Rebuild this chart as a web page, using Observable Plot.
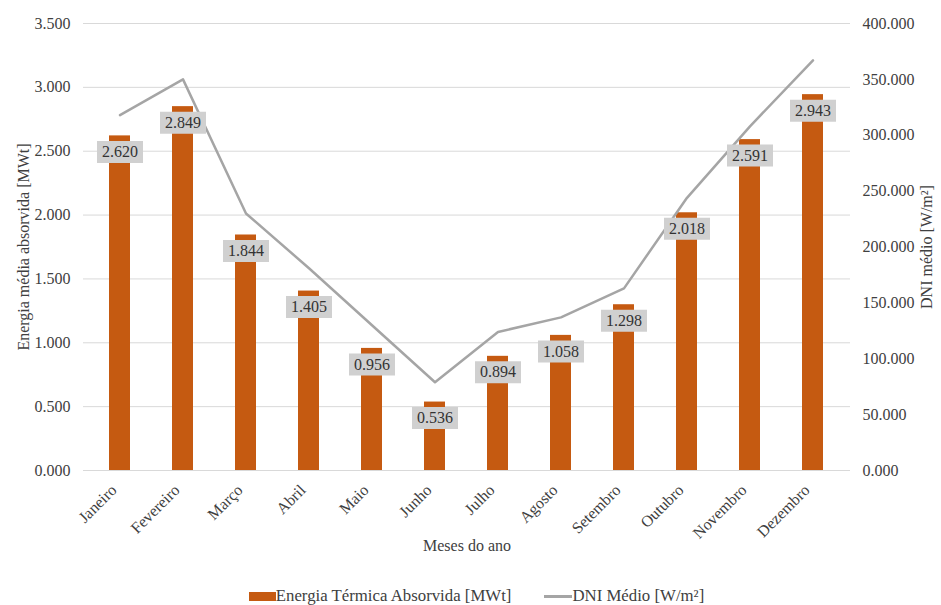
<!DOCTYPE html>
<html>
<head>
<meta charset="utf-8">
<script src="https://cdn.jsdelivr.net/npm/d3@7"></script>
<script src="https://cdn.jsdelivr.net/npm/@observablehq/plot@0.6"></script>
<style>
  html, body { margin: 0; padding: 0; background: #fff; }
  #chart { width: 941px; }
  .legend { display: flex; justify-content: center; align-items: center; height: 20px; margin-top: 1px;
    font-family: "Liberation Serif", "DejaVu Serif", serif; font-size: 16.8px; color: #404040; padding-left: 12px; }
  .sw { display: inline-block; }
  .item { display: flex; align-items: center; }
</style>
</head>
<body>
<div id="chart"></div>
<script>
const months = ["Janeiro", "Fevereiro", "Março", "Abril", "Maio", "Junho", "Julho", "Agosto", "Setembro", "Outubro", "Novembro", "Dezembro"];
const energia = [2.620, 2.849, 1.844, 1.405, 0.956, 0.536, 0.894, 1.058, 1.298, 2.018, 2.591, 2.943];
const dni = [318, 350, 230, 181, 130, 79, 124, 137, 163, 244, 308, 367];
const yTicks = [0, 0.5, 1.0, 1.5, 2.0, 2.5, 3.0, 3.5];
const dniTicks = [0, 50, 100, 150, 200, 250, 300, 350, 400];

const Y_MAX = 3.5, DNI_MAX = 400;
const ratio = Y_MAX / DNI_MAX;
const fmt = d3.format(".3f");
const data = months.map((m, i) => ({month: m, energia: energia[i], dni: dni[i]}));

const boxSymbol = { draw(context, size) { context.rect(-23, -11, 46, 22); } };
const FONT = "Liberation Serif";

const chart = Plot.plot({
  width: 941,
  height: 585,
  marginTop: 23,
  marginBottom: 115,
  marginLeft: 83,
  marginRight: 91,
  style: {fontFamily: FONT, fontSize: "16px", color: "#404040", background: "white"},
  x: {domain: months, paddingInner: 0.66, paddingOuter: 0.33, label: null},
  y: {domain: [0, Y_MAX], label: null},
  marks: [
    Plot.gridY(yTicks, {stroke: "#D9D9D9", strokeOpacity: 1}),
    Plot.ruleY([0], {stroke: "#D9D9D9", strokeWidth: 1}),
    Plot.barY(data, {x: "month", y: "energia", fill: "#C55A11"}),
    Plot.line(data, {x: "month", y: d => d.dni * ratio, stroke: "#A5A5A5", strokeWidth: 2.5}),
    Plot.dot(data, {x: "month", y: "energia", symbol: boxSymbol, r: 5, fill: "#D0D0D0", stroke: null, dy: 16}),
    Plot.text(data, {x: "month", y: "energia", text: d => fmt(d.energia), dy: 16, fill: "#333333", fontSize: 16}),
    Plot.axisY(yTicks, {anchor: "left", tickSize: 0, tickPadding: 13, tickFormat: fmt,
      label: "Energia média absorvida [MWt]", labelAnchor: "center", labelOffset: 66, labelArrow: "none"}),
    Plot.axisY(dniTicks.map(v => v * ratio), {anchor: "right", tickSize: 0, tickPadding: 12, tickFormat: v => fmt(v / ratio),
      label: "DNI médio [W/m²]", labelAnchor: "center", labelOffset: 81, labelArrow: "none"}),
    Plot.axisX({tickRotate: -45, tickSize: 0, tickPadding: 10, dx: -6, dy: 7}),
    Plot.axisX({ticks: [], tickSize: 0, label: "Meses do ano", labelAnchor: "center", labelOffset: 80, labelArrow: "none"})
  ]
});
chart.querySelectorAll("text").forEach(t => t.style.fontFamily = "'Liberation Serif', 'DejaVu Serif', serif");
chart.style.fontFamily = "'Liberation Serif', 'DejaVu Serif', serif";
document.getElementById("chart").appendChild(chart);

const legend = document.createElement("div");
legend.className = "legend";
legend.innerHTML = `
  <span class="item"><span class="sw" style="width:27px;height:9px;background:#C55A11"></span><span>Energia Térmica Absorvida [MWt]</span></span>
  <span class="item" style="margin-left:33px"><span class="sw" style="width:28px;height:3px;background:#A5A5A5"></span><span>DNI Médio [W/m²]</span></span>`;
document.body.appendChild(legend);
</script>
</body>
</html>
